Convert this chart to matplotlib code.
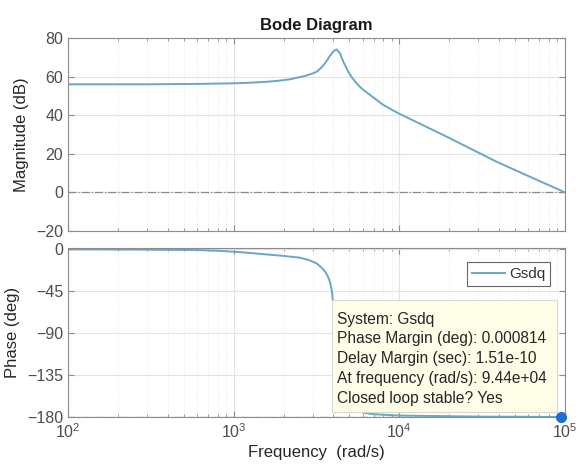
import matplotlib
matplotlib.use("Agg")
import matplotlib.pyplot as plt
from matplotlib.patches import Rectangle
from matplotlib.ticker import LogLocator, NullFormatter, FixedLocator

plt.rcParams['font.family'] = ['Liberation Sans', 'DejaVu Sans']

# Magnitude response (dB) at selected frequencies (rad/s)
mag_freq = [100, 300, 600, 1000, 1250, 1580, 1900, 2190, 2690, 3000, 3170,
            3400, 3560, 3700, 3810, 3930, 4030, 4180, 4380, 4590, 4920, 5200,
            5520, 6000, 6650, 8000, 9860, 19270, 38600, 61400, 100000]
mag_db = [56.0, 56.0, 56.2, 56.5, 56.8, 57.3, 57.9, 58.6, 60.3, 61.6, 62.5,
          64.8, 66.9, 69.0, 70.7, 72.2, 73.3, 74.1, 72.1, 67.7, 62.5, 59.3,
          56.5, 53.4, 50.5, 45.3, 41.0, 28.9, 15.9, 8.1, 0.0]

# Phase response (deg)
ph_freq = [100, 300, 627, 800, 1000, 1250, 1580, 2000, 2510, 2850, 3170,
           3400, 3560, 3700, 3810, 3900, 3940, 3990, 4150, 4400, 4800, 5400,
           6030, 7000, 10000, 30000, 100000]
ph_deg = [-0.3, -0.6, -1.1, -1.8, -2.8, -4.1, -5.7, -7.3, -9.2, -11.8, -15.3,
          -20.0, -24.0, -29.0, -35.0, -43.0, -49.0, -60.0, -95.0, -135.0,
          -160.0, -171.0, -175.4, -177.0, -178.5, -179.6, -180.0]

# Margin datatip
pm_freq = 9.44e4
pm_phase = -180.0
tip_lines = ["System: Gsdq",
             "Phase Margin (deg): 0.000814",
             "Delay Margin (sec): 1.51e-10",
             "At frequency (rad/s): 9.44e+04",
             "Closed loop stable? Yes"]

line_color = '#6aa6c6'
axis_color = '#8c8c8c'
tick_color = '#4d4d4d'
label_color = '#262626'

fig = plt.figure(figsize=(5.79, 4.74), dpi=100)
ax1 = fig.add_axes([0.1174, 0.5127, 0.8584, 0.4072])
ax2 = fig.add_axes([0.1174, 0.1203, 0.8584, 0.3575])

for ax in (ax1, ax2):
    ax.set_xscale('log')
    ax.set_xlim(1e2, 1e5)
    ax.xaxis.set_major_locator(LogLocator(base=10, numticks=10))
    ax.xaxis.set_minor_locator(LogLocator(base=10, subs=range(2, 10), numticks=20))
    ax.xaxis.set_minor_formatter(NullFormatter())
    ax.grid(True, which='major', color='#e3e3e3', lw=0.8, ls='-')
    ax.grid(True, which='minor', color='#e8e8e8', lw=0.6, ls=':')
    ax.set_axisbelow(True)
    for s in ax.spines.values():
        s.set_color(axis_color)
        s.set_linewidth(0.8)
    ax.tick_params(which='both', direction='in', top=True, right=True,
                   colors=axis_color, labelcolor=tick_color, labelsize=11.5)
    ax.tick_params(which='major', length=4)
    ax.tick_params(which='minor', length=2.5)

# Magnitude plot
ax1.axhline(0, color='#8a8a8a', lw=0.9, ls='-.')
ax1.plot(mag_freq, mag_db, color=line_color, lw=1.4)
ax1.set_ylim(-20, 80)
ax1.yaxis.set_major_locator(FixedLocator([-20, 0, 20, 40, 60, 80]))
ax1.tick_params(axis='x', labelbottom=False)
ax1.set_ylabel('Magnitude (dB)', fontsize=12, color=label_color, labelpad=5)
ax1.set_title('Bode Diagram', fontsize=12, fontweight='bold', color='#1a1a1a', pad=6)

# Phase plot
ax2.axhline(-180, color='#8a8a8a', lw=0.9, ls='-.')
ax2.plot(ph_freq, ph_deg, color=line_color, lw=1.4, label='Gsdq')
ax2.set_ylim(-180, 1.7)
ax2.yaxis.set_major_locator(FixedLocator([-180, -135, -90, -45, 0]))
ax2.set_ylabel('Phase (deg)', fontsize=12, color=label_color, labelpad=5)
ax2.set_xlabel('Frequency  (rad/s)', fontsize=12, color=label_color, labelpad=3)

leg = ax2.legend(loc='upper right', bbox_to_anchor=(0.970, 0.912), fontsize=11,
                 frameon=True, fancybox=False, edgecolor='#404040',
                 handlelength=2.2, borderpad=0.3, handletextpad=0.25,
                 borderaxespad=0)
leg.get_frame().set_linewidth(0.8)
for t in leg.get_texts():
    t.set_color('#333333')

# Datatip box and its text lines
ax2.add_patch(Rectangle((0.531, 0.029), 0.453, 0.659, transform=ax2.transAxes,
                        facecolor='#fdfde8', edgecolor='#d9d9cc', lw=0.8,
                        zorder=5))
for i, line in enumerate(tip_lines):
    ax2.text(0.541, 0.551 - 0.1168 * i, line,
             transform=ax2.transAxes, ha='left', va='baseline',
             fontsize=11.2, color='#262626', zorder=6)

ax2.plot([pm_freq], [pm_phase], 'o', color='#1f6fd0', ms=7, clip_on=False, zorder=7)

fig.savefig('out.png', dpi=100, facecolor='white')
